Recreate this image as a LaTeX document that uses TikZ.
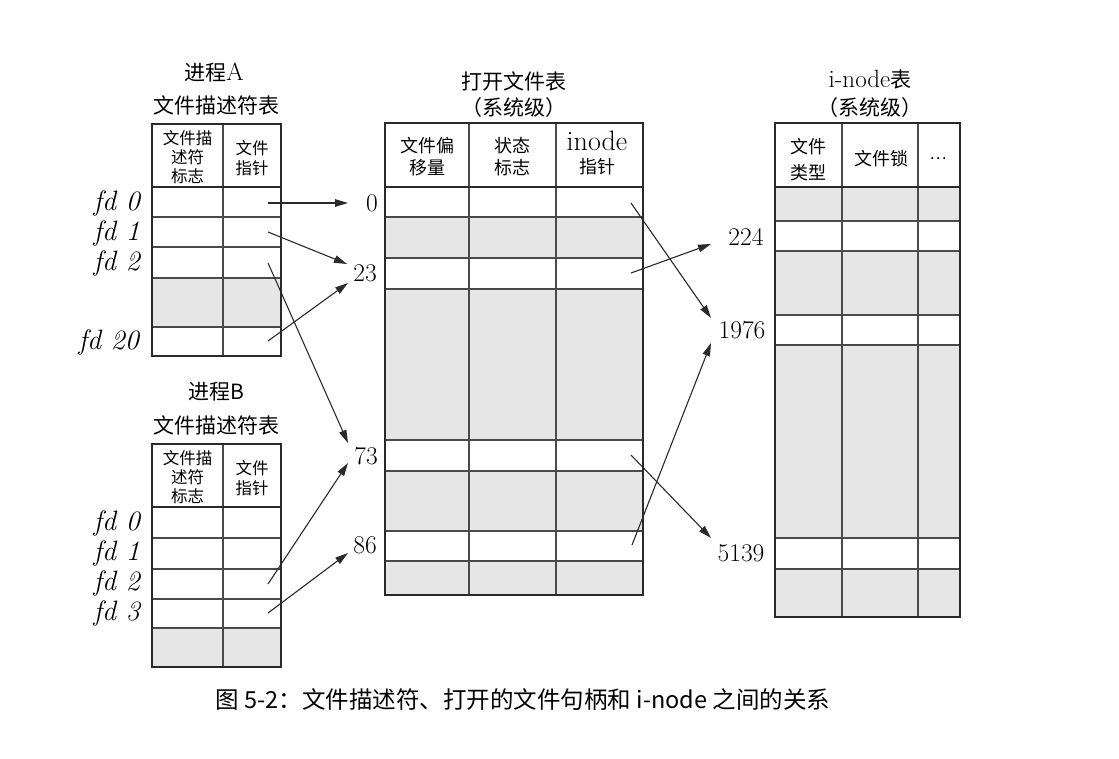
\documentclass[tikz,border=0pt]{standalone}
\usepackage{fontspec}
\newfontfamily\cjk{Noto Sans CJK SC}
\usetikzlibrary{arrows.meta}
\definecolor{shadegray}{HTML}{E6E6E6}
\definecolor{inkline}{HTML}{2A2A2A}

\begin{document}
\begin{tikzpicture}[x=1pt,y=-1pt,
  outerline/.style={line width=2.3pt, draw=inkline},
  gridline/.style={line width=1.1pt, draw=inkline!85},
  shade/.style={fill=shadegray},
  ptr/.style={-{Triangle[length=13pt,width=7.5pt]}, line width=1.1pt, draw=inkline},
  fdlabel/.style={anchor=east, inner sep=0pt, font=\fontsize{28}{30}\selectfont\itshape},
  num/.style={inner sep=0pt, font=\fontsize{25.5}{28}\selectfont},
  title/.style={inner sep=0pt, font=\fontsize{21}{26}\selectfont},
  latintitle/.style={inner sep=0pt, font=\fontsize{25}{26}\selectfont},
  hdrA/.style={inner sep=0pt, align=center, font=\cjk\fontsize{16.5}{19}\selectfont},
  hdrB/.style={inner sep=0pt, align=center, font=\cjk\fontsize{18}{22}\selectfont},
]
\fill[white] (0,0) rectangle (1119,758);
\useasboundingbox (0,0) rectangle (1119,758);

% ---------- process A descriptor table ----------
\node[latintitle] (titA1) at (214,72) {{\cjk\fontsize{21}{26}\selectfont 进程}A};
\node[title] (titA2) at (216,105) {\cjk 文件描述符表};
\fill[shade] (152,278) rectangle (281,327);
\draw[gridline] (223,124) -- (223,356);
\foreach \yy in {217,247,278,327} \draw[gridline] (152,\yy) -- (281,\yy);
\draw[outerline] (152,187) -- (281,187);
\draw[outerline] (152,124) rectangle (281,356);
\node[hdrA] (hA1) at (187.5,157) {文件描\\述符\\标志};
\node[hdrA, font=\cjk\fontsize{16.5}{20}\selectfont] (hA2) at (252,158) {文件\\指针};
\node[fdlabel] (fdA0) at (140,203) {fd 0};
\node[fdlabel] (fdA1) at (140,233) {fd 1};
\node[fdlabel] (fdA2) at (140,263) {fd 2};
\node[fdlabel] (fdA20) at (139,342) {fd 20};
\coordinate (pA0) at (268,203);
\coordinate (pA1) at (268,232);
\coordinate (pA2) at (268,263);
\coordinate (pA20) at (268,341);

% ---------- process B descriptor table ----------
\node[title] (titB1) at (216,392) {\cjk 进程B};
\node[title] (titB2) at (216,425) {\cjk 文件描述符表};
\fill[shade] (152,628) rectangle (281,667);
\draw[gridline] (223,444) -- (223,667);
\foreach \yy in {538,569,599,628} \draw[gridline] (152,\yy) -- (281,\yy);
\draw[outerline] (152,507) -- (281,507);
\draw[outerline] (152,444) rectangle (281,667);
\node[hdrA] (hB1) at (187.5,477) {文件描\\述符\\标志};
\node[hdrA, font=\cjk\fontsize{16.5}{20}\selectfont] (hB2) at (252,478) {文件\\指针};
\node[fdlabel] (fdB0) at (140,523) {fd 0};
\node[fdlabel] (fdB1) at (140,553) {fd 1};
\node[fdlabel] (fdB2) at (140,583) {fd 2};
\node[fdlabel] (fdB3) at (140,613) {fd 3};
\coordinate (pB2) at (268,584);
\coordinate (pB3) at (268,613);

% ---------- open file table ----------
\node[title] (titO1) at (514,81) {\cjk 打开文件表};
\node[title] (titO2) at (514,108) {\cjk （系统级）};
\fill[shade] (385,217) rectangle (643,258);
\fill[shade] (385,289) rectangle (643,440);
\fill[shade] (385,471) rectangle (643,531);
\fill[shade] (385,561) rectangle (643,595);
\foreach \xx in {469,556} \draw[gridline] (\xx,123) -- (\xx,595);
\foreach \yy in {217,258,289,440,471,531,561} \draw[gridline] (385,\yy) -- (643,\yy);
\draw[outerline] (385,187) -- (643,187);
\draw[outerline] (385,123) rectangle (643,595);
\node[hdrB] (hO1) at (427,157) {文件偏\\移量};
\node[hdrB] (hO2) at (512,157) {状态\\标志};
\node[inner sep=0pt, font=\fontsize{28}{30}\selectfont] (hO3a) at (597,141) {inode};
\node[inner sep=0pt, font=\cjk\fontsize{18}{20}\selectfont] (hO3b) at (597,167) {指针};
\node[num] (n0) at (372,203) {0};
\node[num] (n23) at (365,273) {23};
\node[num] (n73) at (366,456) {73};
\node[num] (n86) at (365,545) {86};
\coordinate (in0) at (348,203);
\coordinate (in23a) at (347,264);
\coordinate (in23b) at (348,283);
\coordinate (in73a) at (348,443);
\coordinate (in73b) at (348,463);
\coordinate (in86) at (348,553);
\coordinate (pO0) at (631,203);
\coordinate (pO23) at (631,273);
\coordinate (pO73) at (631,455);
\coordinate (pO86) at (632,545);

% ---------- i-node table ----------
\node[latintitle] (titI1) at (870,80) {i-node{\cjk\fontsize{21}{26}\selectfont 表}};
\node[title] (titI2) at (870,108) {\cjk （系统级）};
\fill[shade] (775,187) rectangle (960,221);
\fill[shade] (775,251) rectangle (960,315);
\fill[shade] (775,345) rectangle (960,538);
\fill[shade] (775,569) rectangle (960,617);
\foreach \xx in {842,918} \draw[gridline] (\xx,123) -- (\xx,617);
\foreach \yy in {221,251,315,345,538,569} \draw[gridline] (775,\yy) -- (960,\yy);
\draw[outerline] (775,187) -- (960,187);
\draw[outerline] (775,123) rectangle (960,617);
\node[hdrB, font=\cjk\fontsize{18}{26}\selectfont] (hI1) at (808.5,160) {文件\\类型};
\node[hdrB] (hI2) at (881,159) {文件锁};
\node[inner sep=0pt, font=\cjk\fontsize{16}{16}\selectfont] (hI3) at (938,159) {…};
\node[num] (n224) at (746,237) {224};
\node[num] (n1976) at (742,330) {1976};
\node[num] (n5139) at (741,553) {5139};
\coordinate (in224) at (711,244);
\coordinate (in1976a) at (711,318);
\coordinate (in1976b) at (711,343);
\coordinate (in5139) at (711,538);

% ---------- pointers ----------
\draw[ptr] (pA0) -- (in0);
\draw[ptr] (pA1) -- (in23a);
\draw[ptr] (pA20) -- (in23b);
\draw[ptr] (pA2) -- (in73a);
\draw[ptr] (pB2) -- (in73b);
\draw[ptr] (pB3) -- (in86);
\draw[ptr] (pO0) -- (in1976a);
\draw[ptr] (pO23) -- (in224);
\draw[ptr] (pO73) -- (in5139);
\draw[ptr] (pO86) -- (in1976b);

% ---------- caption ----------
\node[inner sep=0pt, font=\cjk\fontsize{23.5}{26}\selectfont] (cap) at (523,700)
  {图 5-2：文件描述符、打开的文件句柄和 i-node 之间的关系};
\end{tikzpicture}
\end{document}
